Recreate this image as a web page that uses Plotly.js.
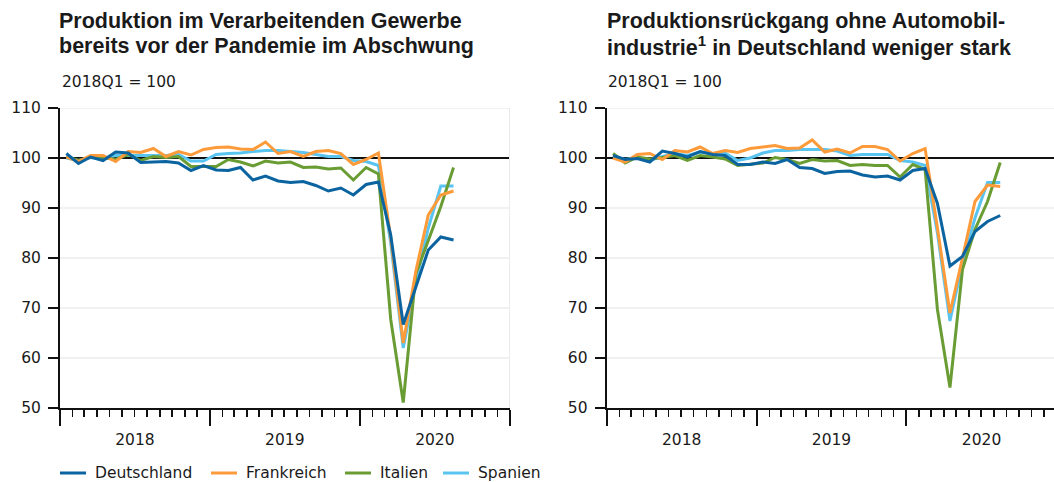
<!DOCTYPE html>
<html>
<head>
<meta charset="utf-8">
<script src="https://cdn.plot.ly/plotly-3.0.1.min.js"></script>
<style>
html, body { margin: 0; padding: 0; overflow: hidden; background: #fff; }
#chart { width: 1058px; height: 482px; }
</style>
</head>
<body>
<div id="chart"></div>
<script>
// ---- Data (2018Q1 = 100), monthly Jan 2018 – Aug 2020 ----
const months = ['2018-01','2018-02','2018-03','2018-04','2018-05','2018-06','2018-07','2018-08','2018-09','2018-10','2018-11','2018-12',
                '2019-01','2019-02','2019-03','2019-04','2019-05','2019-06','2019-07','2019-08','2019-09','2019-10','2019-11','2019-12',
                '2020-01','2020-02','2020-03','2020-04','2020-05','2020-06','2020-07','2020-08'];

const seriesNames = ['Deutschland', 'Frankreich', 'Italien', 'Spanien'];

// Left panel: Produktion im Verarbeitenden Gewerbe
const deLeft = [100.9,98.9,100.2,99.5,101.2,101.0,99.1,99.2,99.3,99.0,97.5,98.5,97.6,97.5,98.1,95.6,96.4,95.4,95.1,95.3,94.5,93.4,94.0,92.6,94.7,95.2,84.6,66.7,74.3,81.6,84.2,83.6];
const frLeft = [100.2,99.3,100.5,100.5,99.3,101.3,101.1,101.9,100.3,101.3,100.6,101.7,102.1,102.2,101.8,101.7,103.2,100.9,101.3,100.3,101.3,101.5,100.9,98.7,99.7,101.0,84.0,63.0,77.3,88.6,92.6,93.4];
const itLeft = [100.3,99.5,100.2,100.1,99.7,100.7,99.5,100.3,100.1,100.3,98.3,98.3,98.3,99.7,99.2,98.4,99.4,99.0,99.2,98.1,98.2,97.8,98.0,95.6,98.1,96.8,67.7,51.1,76.8,83.5,90.3,98.1];
const esLeft = [100.0,99.5,100.1,99.9,100.5,100.5,100.5,100.5,100.5,100.7,99.4,99.4,100.7,100.9,101.0,101.3,101.5,101.5,101.3,101.1,100.7,100.3,100.3,99.5,99.3,98.5,83.0,62.0,75.0,86.0,94.4,94.4];

// Right panel: ohne Automobilindustrie
const deRight = [100.5,99.7,99.9,99.2,101.4,100.9,100.2,101.3,100.7,100.5,98.7,98.7,99.2,98.9,99.7,98.1,97.9,96.9,97.3,97.4,96.6,96.2,96.4,95.6,97.5,97.9,90.9,78.4,80.3,85.3,87.3,88.5];
const frRight = [100.0,99.2,100.7,100.9,99.7,101.5,101.2,102.2,100.9,101.5,101.1,101.9,102.2,102.5,101.9,102.0,103.6,101.2,101.8,101.0,102.3,102.3,101.7,99.4,100.9,101.9,86.0,69.0,80.0,91.3,94.6,94.3];
const itRight = [100.9,99.0,100.2,99.8,100.1,100.5,99.5,100.5,100.2,99.8,98.5,98.7,99.0,100.1,99.7,98.9,99.7,99.4,99.5,98.5,98.7,98.5,98.5,96.2,98.7,97.7,69.7,54.1,77.7,85.7,91.3,99.1];
const esRight = [100.2,99.7,100.1,99.5,100.3,100.9,100.5,101.2,100.9,101.0,99.5,100.0,101.0,101.5,101.5,101.7,101.7,101.7,101.4,100.5,100.7,100.7,100.7,99.5,99.2,98.5,85.0,67.4,79.0,88.0,95.1,95.1];

const titleLeft = ['Produktion im Verarbeitenden Gewerbe', 'bereits vor der Pandemie im Abschwung'];
const titleRight = ['Produktionsrückgang ohne Automobil-', 'industrie<sup>1</sup> in Deutschland weniger stark'];
const unitLabel = '2018Q1 = 100';
const baseLevel = 100;
const gridLevels = [60, 70, 80, 90, 110];

// ---- Styling ----
const colors = { Deutschland: '#0b64a0', Frankreich: '#fd9a3a', Italien: '#6a9c34', Spanien: '#5ac4f0' };
const W = 1058, H = 482;
const M = { l: 0, r: 0, t: 108, b: 74 };
const FONT = 'DejaVu Sans';
const TITLE_FONT = 'Liberation Sans';
const INK = '#1a1a1a';
const X0 = '2018-01-01', X1 = '2021-01-01';

function trace(name, values, xa, ya) {
  return {
    type: 'scatter', mode: 'lines', name: name,
    x: months, y: values, xperiod: 'M1', xperiodalignment: 'middle',
    xaxis: xa, yaxis: ya,
    line: { color: colors[name], width: 3 },
    showlegend: false, hoverinfo: 'skip'
  };
}

// draw order: Spanien below, Deutschland on top
const data = [
  trace('Spanien', esLeft, 'x', 'y'),
  trace('Italien', itLeft, 'x', 'y'),
  trace('Frankreich', frLeft, 'x', 'y'),
  trace('Deutschland', deLeft, 'x', 'y'),
  trace('Spanien', esRight, 'x2', 'y2'),
  trace('Italien', itRight, 'x2', 'y2'),
  trace('Frankreich', frRight, 'x2', 'y2'),
  trace('Deutschland', deRight, 'x2', 'y2')
];

function xAxis(domain, anchor) {
  return {
    domain: domain, anchor: anchor, type: 'date',
    range: [X0, X1],
    tick0: X0, dtick: 'M12', tickformat: '%Y', ticklabelmode: 'period',
    ticks: 'outside', ticklen: 16, tickwidth: 2, tickcolor: '#111',
    ticklabelstandoff: 0,
    showline: true, linecolor: '#111', linewidth: 2,
    showgrid: false, zeroline: false, fixedrange: true,
    tickfont: { family: FONT, size: 15.5, color: INK },
    minor: { tick0: X0, dtick: 'M1', ticks: 'outside', ticklen: 7, tickwidth: 1.5, tickcolor: '#111', showgrid: false }
  };
}
function yAxis(anchor) {
  return {
    anchor: anchor, domain: [0, 1], range: [50, 110], tick0: 50, dtick: 10,
    ticks: 'outside', ticklen: 10, tickwidth: 1.5, tickcolor: '#111',
    ticklabelstandoff: 4,
    showline: true, linecolor: '#111', linewidth: 2,
    showgrid: false, zeroline: false, fixedrange: true,
    tickfont: { family: FONT, size: 15.5, color: INK }
  };
}

const px = v => v / W;                              // horizontal pixel -> paper
const py = v => (H - M.b - v) / (H - M.t - M.b);    // vertical pixel -> paper

const shapes = [];
[['x', 'y'], ['x2', 'y2']].forEach(([xa, ya]) => {
  gridLevels.forEach(g => shapes.push({
    type: 'line', xref: xa, yref: ya, x0: X0, x1: X1, y0: g, y1: g,
    line: { color: '#ececec', width: 1.5 }, layer: 'below'
  }));
  shapes.push({
    type: 'line', xref: xa, yref: ya, x0: X0, x1: X1, y0: baseLevel, y1: baseLevel,
    line: { color: '#111', width: 2 }, layer: 'below'
  });
});
shapes.push({ type: 'line', xref: 'x', yref: 'y', x0: X1, x1: X1, y0: 50, y1: 110,
  line: { color: '#ebebeb', width: 2 }, layer: 'below' });

// titles, one annotation per line
const annotations = [];
const titleLines = [{ lines: titleLeft, x: 57 }, { lines: titleRight, x: 605 }];
const titleLineY = [21, 46.5];
titleLines.forEach(t => t.lines.forEach((txt, i) => annotations.push({
  xref: 'paper', yref: 'paper', x: px(t.x), y: py(titleLineY[i]), xanchor: 'left', yanchor: 'middle',
  align: 'left', showarrow: false, text: '<b>' + txt + '</b>',
  font: { family: TITLE_FONT, size: 21.5, color: INK }
})));
[60, 606].forEach(x => annotations.push({
  xref: 'paper', yref: 'paper', x: px(x), y: py(82), xanchor: 'left', yanchor: 'middle', showarrow: false,
  text: unitLabel, font: { family: FONT, size: 15.5, color: INK }
}));

// manual legend (positions in pixels)
const legendY = 473;
const legendItems = [
  { name: seriesNames[0], x: 60 },
  { name: seriesNames[1], x: 211 },
  { name: seriesNames[2], x: 345 },
  { name: seriesNames[3], x: 443 }
];
legendItems.forEach(it => {
  shapes.push({ type: 'line', xref: 'paper', yref: 'paper', x0: px(it.x), x1: px(it.x + 26),
    y0: py(legendY), y1: py(legendY), line: { color: colors[it.name], width: 3 } });
  annotations.push({ xref: 'paper', yref: 'paper', x: px(it.x + 33), y: py(legendY), xanchor: 'left', yanchor: 'middle',
    showarrow: false, text: it.name, font: { family: FONT, size: 15.5, color: INK } });
});

const layout = {
  width: W, height: H, margin: M,
  paper_bgcolor: '#fff', plot_bgcolor: '#fff',
  font: { family: FONT, size: 15.5, color: INK },
  xaxis: xAxis([px(60), px(510)], 'y'),
  yaxis: yAxis('x'),
  xaxis2: xAxis([px(606.7), px(1056.7)], 'y2'),
  yaxis2: yAxis('x2'),
  showlegend: false,
  shapes: shapes,
  annotations: annotations
};

Plotly.newPlot('chart', data, layout, { staticPlot: true, displayModeBar: false });
</script>
</body>
</html>
